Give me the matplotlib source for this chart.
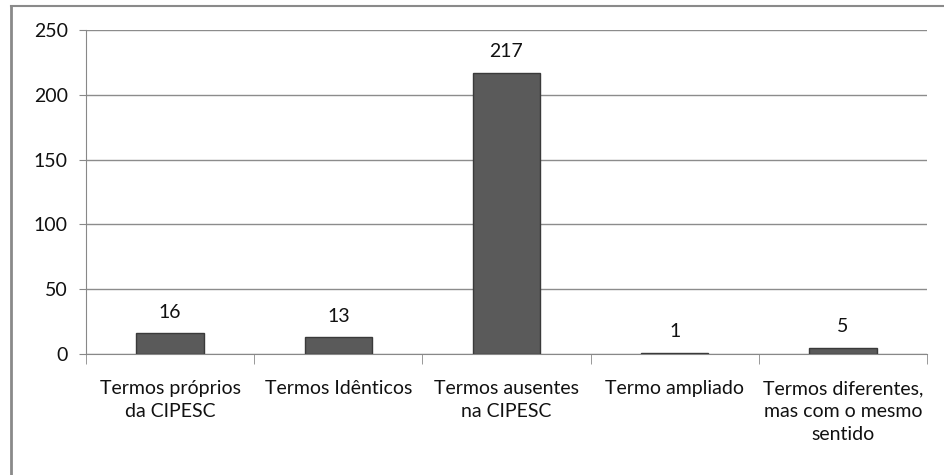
import matplotlib
matplotlib.use("Agg")
import matplotlib.pyplot as plt
from matplotlib.lines import Line2D

categories = ["Termos próprios\nda CIPESC", "Termos Idênticos", "Termos ausentes\nna CIPESC",
              "Termo ampliado", "Termos diferentes,\nmas com o mesmo\nsentido"]
values = [16, 13, 217, 1, 5]
yticks = [0, 50, 100, 150, 200, 250]

plt.rcParams['font.family'] = ['Lato', 'DejaVu Sans']

fig = plt.figure(figsize=(9.44, 4.75), dpi=100)
ax = fig.add_axes([86/944, 1-354/475, (927-86)/944, (354-30)/475])

x = list(range(len(values)))
bars = ax.bar(x, values, width=0.4, color='#5a5a5a', edgecolor='#3a3a3a', linewidth=1.0, zorder=3)
for b, v in zip(bars, values):
    ax.annotate(str(v), xy=(b.get_x() + b.get_width()/2, v), xytext=(0, 11),
                textcoords='offset points', ha='center', va='baseline', fontsize=14, color='#111111')

ax.set_xlim(-0.5, len(values) - 0.5)
ax.set_ylim(0, 250)
ax.set_yticks(yticks)
ax.set_yticklabels([str(t) for t in yticks], fontsize=14)
ax.set_xticks(x)
ax.set_xticklabels(categories, fontsize=14, linespacing=1.4, color='#111111')
ax.tick_params(axis='x', length=0, pad=19)
ax.tick_params(axis='y', length=5, color='#888888', pad=8, labelcolor='#111111')
ax.set_xticks([i + 0.5 for i in range(-1, len(values))], minor=True)
ax.tick_params(axis='x', which='minor', length=7, color='#888888')
ax.yaxis.grid(True, color='#8c8c8c', linewidth=1.0, zorder=0)
for s in ['top', 'right']:
    ax.spines[s].set_visible(False)
ax.spines['left'].set_color('#888888')
ax.spines['bottom'].set_color('#888888')

fig.add_artist(Line2D([10.5/944, 10.5/944], [0, 1-6/475], color='#8a8a8a', linewidth=2, transform=fig.transFigure))
fig.add_artist(Line2D([10.5/944, 1], [1-6/475, 1-6/475], color='#8a8a8a', linewidth=1.5, transform=fig.transFigure))

fig.savefig("out.png", dpi=100)
